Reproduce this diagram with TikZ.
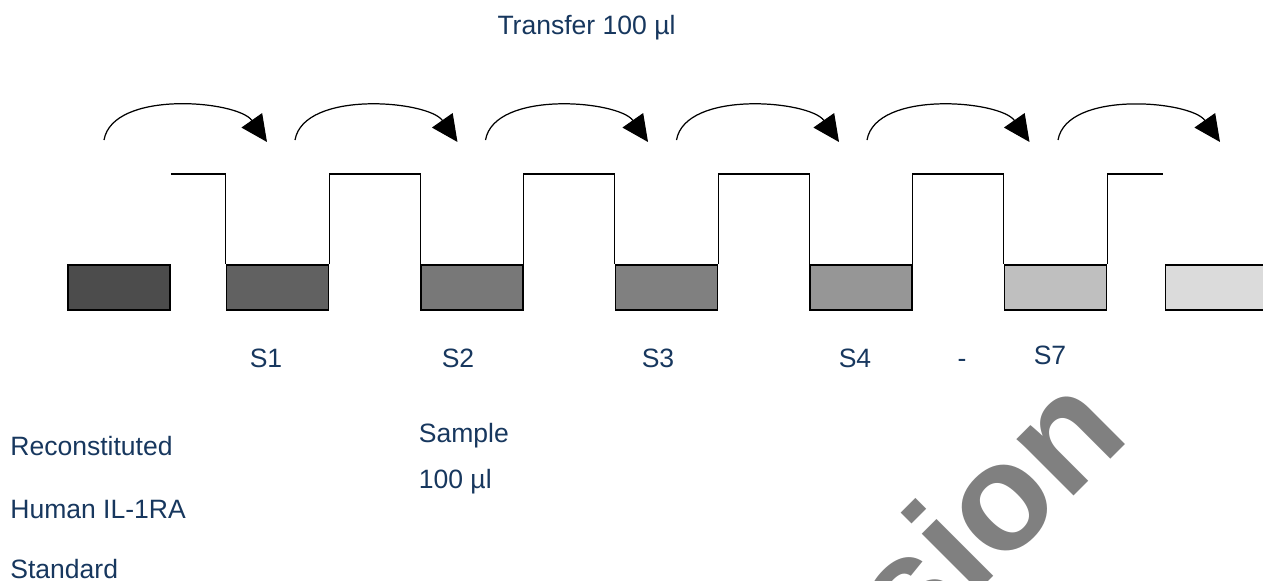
\documentclass[tikz,border=0pt]{standalone}
\usepackage{fontspec}
\setmainfont{Liberation Sans}
\usetikzlibrary{positioning,arrows.meta}
\definecolor{labelblue}{HTML}{17375E}
\tikzset{
    on grid,
    node distance=3.89cm,
    auto,
    tube/.style = {
        draw,
        shape=rectangle,
        minimum height=0.9cm,
        minimum width=2.04cm,
        line width=0.9pt
    },
    lbl/.style = {
        text=labelblue,
        font=\fontsize{15.1}{18}\selectfont,
        inner sep=0pt
    },
    rim/.style = {
        line width=0.6pt
    },
    transfer/.style = {
        line width=0.7pt,
        looseness=0.8
    },
    watermark/.style = {
        text=black!50,
        font=\fontsize{86.5}{90}\selectfont\bfseries,
        inner sep=0pt
    },
    >={Triangle[length=0.53cm,width=0.5cm]},
}

\begin{document}
\begin{tikzpicture}
        \useasboundingbox (0,0) rectangle (25.26,-11.6);
        \clip (0,0) rectangle (25.26,-11.6);

        \node[watermark, rotate=45, anchor=base east] (wm) at (22.65,-8.75) {sion};

        \node[tube, fill=black!70] (t0) at (2.38,-5.75) {};
        \node[tube, fill=black!62, right=3.17cm of t0] (t1) {};
        \node[tube, fill=black!53, right of=t1] (t2) {};
        \node[tube, fill=black!50, right of=t2] (t3) {};
        \node[tube, fill=black!41, right of=t3] (t4) {};
        \node[tube, fill=black!25, right of=t4] (t5) {};
        \node[tube, fill=black!14, right=3.22cm of t5] (t6) {};

        \coordinate (rim) at (0,-3.48);
        \coordinate (lipend) at (23.26,-3.48);

        \path[draw, rim] (t0.east |- rim) -- (t1.north west |- rim) -- (t1.north west);
        \path[draw, rim] (t1.north east) -- (t1.north east |- rim) -- (t2.north west |- rim) -- (t2.north west);
        \path[draw, rim] (t2.north east) -- (t2.north east |- rim) -- (t3.north west |- rim) -- (t3.north west);
        \path[draw, rim] (t3.north east) -- (t3.north east |- rim) -- (t4.north west |- rim) -- (t4.north west);
        \path[draw, rim] (t4.north east) -- (t4.north east |- rim) -- (t5.north west |- rim) -- (t5.north west);
        \path[draw, rim] (t5.north east) -- (t5.north east |- rim) -- (lipend);

        \coordinate (a0) at (2.08,-2.80);
        \coordinate (b0) at (5.34,-2.84);
        \coordinate (a1) at (5.90,-2.80);
        \coordinate (b1) at (9.15,-2.84);
        \coordinate (a2) at (9.71,-2.80);
        \coordinate (b2) at (12.96,-2.84);
        \coordinate (a3) at (13.53,-2.80);
        \coordinate (b3) at (16.78,-2.84);
        \coordinate (a4) at (17.34,-2.80);
        \coordinate (b4) at (20.59,-2.84);
        \coordinate (a5) at (21.16,-2.80);
        \coordinate (b5) at (24.40,-2.84);

        \path[draw, transfer, ->] (a0) to[out=80, in=125] (b0);
        \path[draw, transfer, ->] (a1) to[out=80, in=125] (b1);
        \path[draw, transfer, ->] (a2) to[out=80, in=125] (b2);
        \path[draw, transfer, ->] (a3) to[out=80, in=125] (b3);
        \path[draw, transfer, ->] (a4) to[out=80, in=125] (b4);
        \path[draw, transfer, ->] (a5) to[out=80, in=125] (b5);

        \node[lbl, anchor=base] (volume) at (11.73,-0.68) {Transfer 100 µl};

        \node[lbl, anchor=base] (s1) at (5.32,-7.34) {S1};
        \node[lbl, anchor=base] (s2) at (9.16,-7.34) {S2};
        \node[lbl, anchor=base] (s3) at (13.16,-7.34) {S3};
        \node[lbl, anchor=base] (s4) at (17.10,-7.34) {S4};
        \node[lbl, anchor=base] (dash) at (19.24,-7.34) {-};
        \node[lbl, anchor=base] (s7) at (21.00,-7.28) {S7};

        \node[lbl, anchor=base west] (recon) at (0.2,-9.10) {Reconstituted};
        \node[lbl, below=1.26cm of recon.base west, anchor=base west] (human) {Human IL-1RA};
        \node[lbl, below=1.20cm of human.base west, anchor=base west] (standard) {Standard};

        \node[lbl, anchor=base west] (sample) at (8.37,-8.84) {Sample};
        \node[lbl, below=0.92cm of sample.base west, anchor=base west] (amount) {100 µl};
    \end{tikzpicture}
\end{document}
